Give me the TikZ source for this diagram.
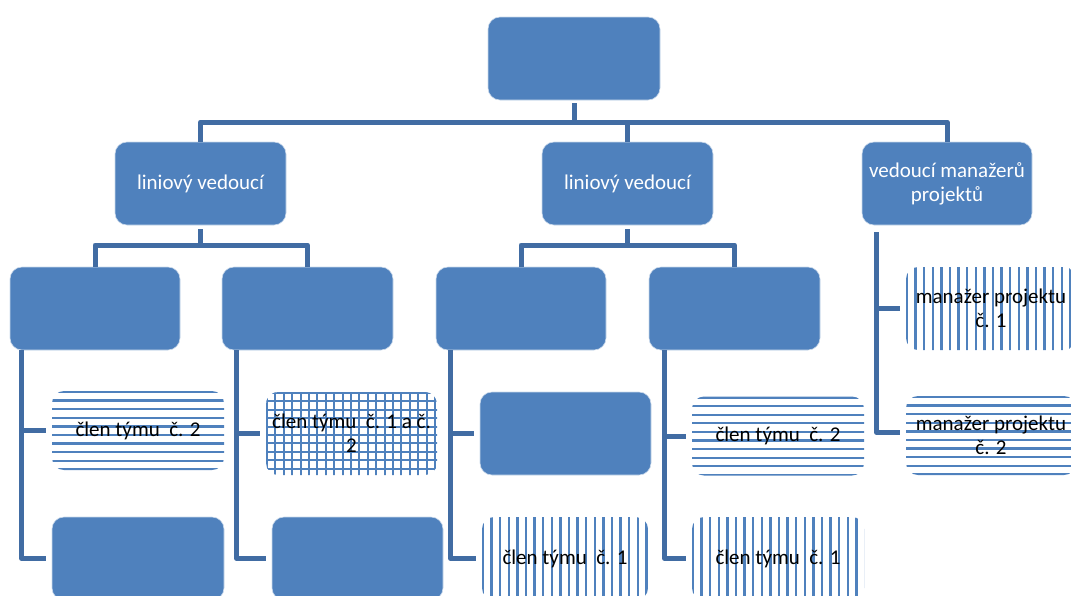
\documentclass[tikz,border=0pt]{standalone}
\usepackage{fontspec}
\setmainfont{Carlito}
\usetikzlibrary{calc}
\definecolor{boxblue}{HTML}{4F81BD}
\definecolor{linkblue}{HTML}{416CA3}
\tikzset{
  unitbox/.style={rounded corners=12pt, minimum width=171pt, minimum height=83pt,
    inner sep=1pt, align=center, font=\fontsize{21}{24}\selectfont},
  solidbox/.style={unitbox, fill=boxblue, draw=white!70!boxblue, line width=0.6pt, text=white},
  hatchline/.style={boxblue, line width=2.3pt},
  hbox/.style={unitbox, text=black, path picture={
      \foreach \i in {0,...,11}{\draw[hatchline] ($(path picture bounding box.north west)+(-2,1+\i*8.6)$) -- ++(230,0);}}},
  vbox/.style={unitbox, text=black, path picture={
      \foreach \i in {0,...,20}{\draw[hatchline] ($(path picture bounding box.north west)+(1+\i*8.6,-2)$) -- ++(0,100);}}},
  gbox/.style={unitbox, text=black, path picture={
      \foreach \i in {0,...,11}{\draw[boxblue, line width=2pt] ($(path picture bounding box.north west)+(-2,1+\i*8.4)$) -- ++(230,0);}
      \foreach \i in {0,...,20}{\draw[boxblue, line width=2pt] ($(path picture bounding box.north west)+(1+\i*8.4,-2)$) -- ++(0,100);}}},
  link/.style={linkblue, line width=5pt, line join=round},
  branch/.style={link, shorten >=6pt},
}
\begin{document}
\begin{tikzpicture}[x=1pt, y=-1pt]
\useasboundingbox (0,0) rectangle (1071,595);
\clip (0,0) rectangle (1071,595);

% level 1
\node[solidbox, minimum width=172pt] (top) at (574,58.5) {};
% level 2
\node[solidbox] (A) at (200.5,183.5) {liniový vedoucí};
\node[solidbox] (B) at (627.5,183.5) {liniový vedoucí};
\node[solidbox, minimum width=170pt] (C) at (947,183.5) {vedoucí manažerů\\projektů};
% level 3
\node[solidbox, minimum width=170pt] (D1) at (95,308.5) {};
\node[solidbox] (D2) at (307.5,308.5) {};
\node[solidbox, minimum width=170pt] (D3) at (521,308.5) {};
\node[solidbox] (D4) at (734.5,308.5) {};
% managers
\node[vbox, minimum width=170pt] (M1) at (991,308.5) {manažer projektu\\č. 1};
\node[hbox, minimum width=170pt, minimum height=79pt] (M2) at (991,435.5) {manažer projektu\\č. 2};
% level 4
\node[hbox, minimum width=172pt, minimum height=79pt] (E1) at (138,430.5) {člen týmu\ \ č. 2};
\node[solidbox, minimum width=172pt] (E2) at (138,558.5) {};
\node[gbox] (F1) at (351.5,433.5) {člen týmu\ \ č. 1 a č.\\2};
\node[solidbox] (F2) at (357.5,558.5) {};
\node[solidbox] (G1) at (565.5,433.5) {};
\node[vbox, minimum width=166pt] (G2) at (565,558.5) {člen týmu\ \ č. 1};
\node[hbox, minimum width=172pt, minimum height=79pt] (H1) at (778,436) {člen týmu\ \ č. 2};
\node[vbox, minimum width=172pt] (H2) at (778,558.5) {člen týmu\ \ č. 1};

% connectors level 1 -> 2
\coordinate (bus0) at (574,122);
\draw[link, shorten <=3pt] (top.south) -- (bus0);
\draw[link] (A.north) |- (bus0) -| (C.north);
\draw[link] (bus0 -| B.north) -- (B.north);
% level 2 -> 3
\coordinate (busA) at (200.5,245);
\coordinate (busB) at (627.5,245);
\draw[link, shorten <=4pt] (A.south) -- (busA);
\draw[link] (D1.north) |- (busA) -| (D2.north);
\draw[link, shorten <=4pt] (B.south) -- (busB);
\draw[link] (D3.north) |- (busB) -| (D4.north);
% level 3 -> 4
\coordinate (d1s) at ($(D1.south west)+(12,0)$);
\coordinate (d2s) at ($(D2.south west)+(15,0)$);
\coordinate (d3s) at ($(D3.south west)+(15,0)$);
\coordinate (d4s) at ($(D4.south west)+(16,0)$);
\coordinate (cs) at ($(C.south west)+(15,7)$);
\draw[branch] (d1s) |- (E1.west);
\draw[branch] (d1s) |- (E2.west);
\draw[branch] (d2s) |- (F1.west);
\draw[branch] (d2s) |- (F2.west);
\draw[branch] (d3s) |- (G1.west);
\draw[branch] (d3s) |- (G2.west);
\draw[branch] (d4s) |- (H1.west);
\draw[branch] (d4s) |- (H2.west);
\draw[branch] (cs) |- (M1.west);
\draw[branch] (cs) |- ($(M2.west)+(0,-3)$);
\end{tikzpicture}
\end{document}
